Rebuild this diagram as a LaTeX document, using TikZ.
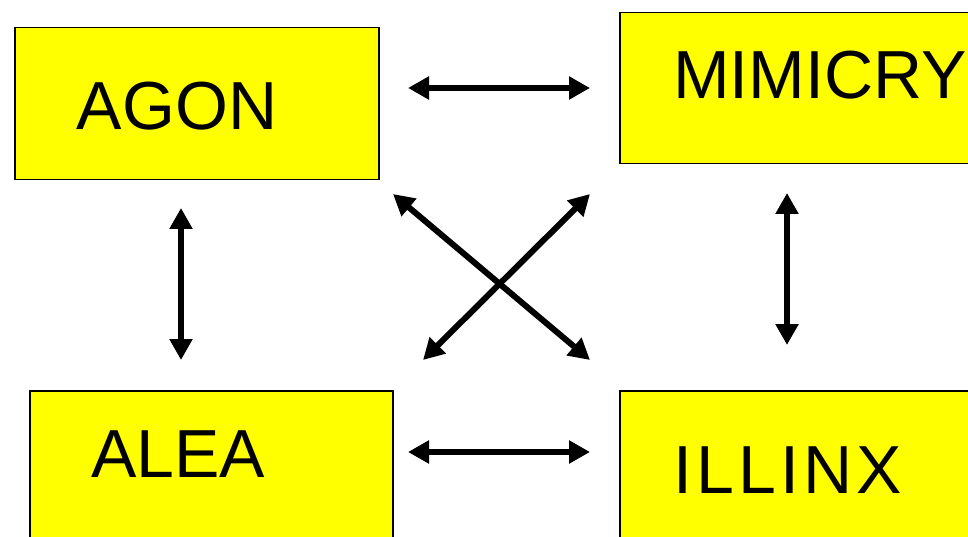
\documentclass[tikz,border=0pt]{standalone}
\usepackage{fontspec}
\setmainfont{Liberation Sans}
\usetikzlibrary{arrows.meta}
\definecolor{boxyellow}{HTML}{FFFF00}
\tikzset{
  gamebox/.style={draw=black, line width=1.5pt, fill=boxyellow, rectangle, inner sep=0pt, anchor=north west},
  gamelabel/.style={inner sep=0pt, anchor=base, font=\fontsize{68}{68}\selectfont},
  link/.style={line width=6pt, {Triangle[length=21pt,width=22pt]}-{Triangle[length=21pt,width=22pt]}}
}
\begin{document}
\begin{tikzpicture}[x=1pt,y=-1pt]
  \clip (0,0) rectangle (968,537);
  \fill[white] (0,0) rectangle (968,537);

  % the four game categories
  \node[gamebox, minimum width=364pt, minimum height=152pt] (agonbox) at (14,27) {};
  \node[gamebox, minimum width=380pt, minimum height=151pt] (mimbox) at (619,12) {};
  \node[gamebox, minimum width=363pt, minimum height=170pt] (aleabox) at (29,390) {};
  \node[gamebox, minimum width=380pt, minimum height=170pt] (illbox) at (619,390) {};

  \node[gamelabel] (agon) at (177,130) {AGON};
  \node[gamelabel] (mim) at (820,99) {MIMICRY};
  \node[gamelabel] (alea) at (178,477) {ALEA};
  \node[gamelabel, font=\fontsize{68}{68}\selectfont\addfontfeature{LetterSpace=6}] (ill) at (788,493) {ILLINX};

  % arrow end points
  \coordinate (t1) at (408,88);   \coordinate (t2) at (590,88);
  \coordinate (b1) at (408,452);  \coordinate (b2) at (590,452);
  \coordinate (l1) at (181,208);  \coordinate (l2) at (181,360);
  \coordinate (r1) at (787,193);  \coordinate (r2) at (787,345);
  \coordinate (d1) at (393,194);  \coordinate (d2) at (590,360);
  \coordinate (e1) at (590,194);  \coordinate (e2) at (423,360);

  \draw[link] (t1) -- (t2);
  \draw[link] (b1) -- (b2);
  \draw[link] (l1) -- (l2);
  \draw[link] (r1) -- (r2);
  \draw[link] (d1) -- (d2);
  \draw[link] (e1) -- (e2);
\end{tikzpicture}
\end{document}
